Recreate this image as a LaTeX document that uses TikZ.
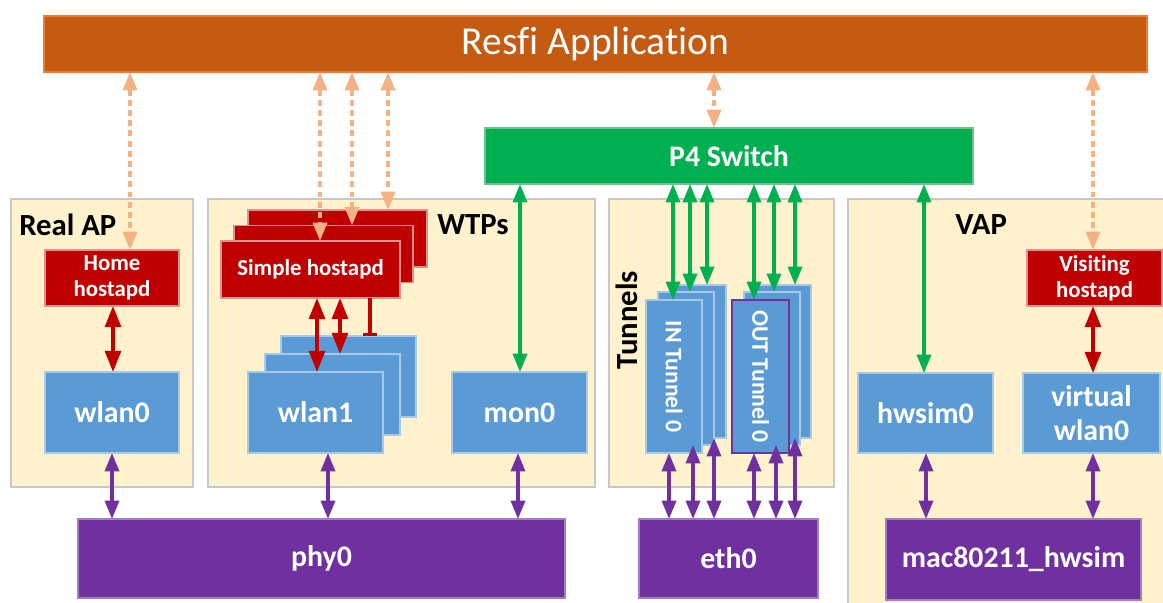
\documentclass[tikz,border=0pt]{standalone}
\usepackage{fontspec}
\setmainfont{Carlito}[Ligatures=NoCommon]
\usetikzlibrary{arrows.meta}
\definecolor{resfic}{HTML}{C55A11}
\definecolor{resfib}{HTML}{ED7D31}
\definecolor{lorange}{HTML}{F4B183}
\definecolor{greenc}{HTML}{00B050}
\definecolor{greenb}{HTML}{70C090}
\definecolor{redc}{HTML}{C00000}
\definecolor{redb}{HTML}{E09090}
\definecolor{bluec}{HTML}{5B9BD5}
\definecolor{blueb}{HTML}{A9C8E8}
\definecolor{purplec}{HTML}{7030A0}
\definecolor{purpleb}{HTML}{A080C0}
\definecolor{panelc}{HTML}{FFF2CC}
\definecolor{panelb}{HTML}{C8C8C8}
\tikzset{
  sz/.style 2 args={minimum width=#1*0.02cm, minimum height=#2*0.02cm},
  box/.style={draw, line width=0.6pt, inner sep=0pt, outer sep=0pt, text=white, align=center,
    font=\bfseries\fontsize{17}{19}\selectfont},
  bluebox/.style={box, fill=bluec, draw=blueb},
  redbox/.style={box, fill=redc, draw=redb, font=\bfseries\fontsize{13}{15}\selectfont},
  purplebox/.style={box, fill=purplec, draw=purpleb},
  panel/.style={draw=panelb, fill=panelc, line width=0.6pt},
  ptitle/.style={font=\bfseries\fontsize{17.5}{20}\selectfont, text=black, inner sep=0pt},
  dasharr/.style={draw=lorange, line width=1.9pt, dash pattern=on 3.4pt off 2.4pt, {Triangle[width=8pt,length=10.5pt,fill=lorange]}-{Triangle[width=8pt,length=10.5pt,fill=lorange]}},
  greenarr/.style={draw=greenc, line width=1.9pt, {Triangle[width=8pt,length=10.5pt]}-{Triangle[width=8pt,length=10.5pt]}},
  redarr/.style={draw=redc, line width=1.9pt, {Triangle[width=9pt,length=12pt]}-{Triangle[width=9pt,length=12pt]}},
  purplearr/.style={draw=purplec, line width=1.9pt, {Triangle[width=8pt,length=10.5pt]}-{Triangle[width=8pt,length=10.5pt]}},
}
\begin{document}
\begin{tikzpicture}[x=0.02cm,y=-0.02cm]
\useasboundingbox (0,0) rectangle (1163,602);

% panels
\draw[panel] (11,199) rectangle (193,487);
\draw[panel] (208,199) rectangle (595,487);
\draw[panel] (609,199) rectangle (834,487);
\draw[panel] (848,199) rectangle (1175,615);

\node[ptitle, anchor=west] (trealap) at (19,225) {Real AP};
\node[ptitle, anchor=west] (twtps) at (437,225) {WTPs};
\node[ptitle, rotate=90] (ttun) at (627,320) {Tunnels};
\node[ptitle, anchor=west] (tvap) at (955,225) {VAP};

% top boxes
\node[box, fill=resfic, draw=resfib, sz={1103}{56}, font=\fontsize{22.5}{25}\selectfont] (resfi) at (595.5,44) {Resfi Application};
\node[box, fill=greenc, draw=greenb, sz={488}{56}] (p4) at (729,156) {P4 Switch};

% Real AP
\node[redbox, sz={134}{56}] (home) at (112,278) {Home\\hostapd};
\node[bluebox, sz={134}{81}] (wlan0) at (112,412.5) {wlan0};

% WTPs
\node[redbox, sz={179}{57}] (hsb) at (337.5,238.5) {};
\node[redbox, sz={179}{57}] (hsm) at (323.5,254) {};
\node[redbox, sz={179}{57}] (hsf) at (310.5,269.5) {Simple hostapd};
\node[bluebox, sz={135}{81}] (wlb) at (348.5,376.5) {};
\node[bluebox, sz={135}{81}] (wlm) at (332.5,394.5) {};
\node[bluebox, sz={135}{81}] (wlf) at (315.5,412.5) {wlan1};
\node[bluebox, sz={135}{81}] (mon0) at (519.5,412.5) {mon0};

% Tunnels
\node[bluebox, sz={56}{153}] (inb) at (698,361.5) {};
\node[bluebox, sz={56}{153}] (inm) at (686,368.5) {};
\node[bluebox, sz={56}{153}, font=\bfseries\fontsize{13.5}{15}\selectfont] (inf) at (674,376.5) {\rotatebox{-90}{IN Tunnel 0}};
\node[bluebox, sz={55}{153}] (outb) at (783.5,361.5) {};
\node[bluebox, sz={56}{153}] (outm) at (772,368.5) {};
\node[bluebox, draw=purplec, sz={57}{153}, font=\bfseries\fontsize{13.5}{15}\selectfont] (outf) at (760.5,376.5) {\rotatebox{-90}{OUT Tunnel 0}};

% VAP
\node[bluebox, sz={135}{80}] (hwsim0) at (925.5,413) {hwsim0};
\node[bluebox, sz={137}{80}] (vwlan0) at (1091.5,413) {virtual\\wlan0};
\node[redbox, sz={135}{56}] (visit) at (1094.5,278) {Visiting\\hostapd};

% bottom
\node[purplebox, sz={487}{79}] (phy0) at (321.5,558.5) {phy0};
\node[purplebox, sz={179}{79}] (eth0) at (728.5,558.5) {eth0};
\node[purplebox, sz={255}{81}] (mac) at (1013.5,559.5) {mac80211\_hwsim};

% dashed orange
\draw[dasharr] (resfi.south -| 130,0) -- (home.north -| 130,0);
\draw[dasharr] (resfi.south -| 320,0) -- (hsf.north -| 320,0);
\draw[dasharr] (resfi.south -| 352,0) -- (hsm.north -| 352,0);
\draw[dasharr] (resfi.south -| 388,0) -- (hsb.north -| 388,0);
\draw[dasharr] (resfi.south -| 714,0) -- (p4.north -| 714,0);
\draw[dasharr] (resfi.south -| 1093,0) -- (visit.north -| 1093,0);

% green
\draw[greenarr] (p4.south -| 520,0) -- (mon0.north -| 520,0);
\draw[greenarr] (p4.south -| 673,0) -- (inf.north -| 673,0);
\draw[greenarr] (p4.south -| 690,0) -- (inm.north -| 690,0);
\draw[greenarr] (p4.south -| 707,0) -- (inb.north -| 707,0);
\draw[greenarr] (p4.south -| 754,0) -- (outf.north -| 754,0);
\draw[greenarr] (p4.south -| 774,0) -- (outm.north -| 774,0);
\draw[greenarr] (p4.south -| 795,0) -- (outb.north -| 795,0);
\draw[greenarr] (p4.south -| 924,0) -- (hwsim0.north -| 924,0);

% red
\draw[redarr] (home.south -| 113,0) -- (wlan0.north -| 113,0);
\draw[redarr] (hsf.south -| 317,0) -- (wlf.north -| 317,0);
\draw[redarr] (hsf.south -| 340,0) -- (wlm.north -| 340,0);
\draw[draw=redc, line width=1.9pt, -{Bar[width=8pt,line width=1.9pt]}] (hsf.south -| 370,0) -- (wlb.north -| 370,0);
\draw[redarr] (visit.south -| 1093,0) -- (vwlan0.north -| 1093,0);

% purple
\draw[purplearr] (wlan0.south -| 112,0) -- (phy0.north -| 112,0);
\draw[purplearr] (wlf.south -| 328,0) -- (phy0.north -| 328,0);
\draw[purplearr] (mon0.south -| 518,0) -- (phy0.north -| 518,0);
\draw[purplearr] (inf.south -| 669,0) -- (eth0.north -| 669,0);
\draw[purplearr] (inm.south -| 693,0) -- (eth0.north -| 693,0);
\draw[purplearr] (inb.south -| 714,0) -- (eth0.north -| 714,0);
\draw[purplearr] (outf.south -| 754,0) -- (eth0.north -| 754,0);
\draw[purplearr] (outm.south -| 776,0) -- (eth0.north -| 776,0);
\draw[purplearr] (outb.south -| 795,0) -- (eth0.north -| 795,0);
\draw[purplearr] (hwsim0.south -| 926,0) -- (mac.north -| 926,0);
\draw[purplearr] (vwlan0.south -| 1093,0) -- (mac.north -| 1093,0);
\end{tikzpicture}
\end{document}
